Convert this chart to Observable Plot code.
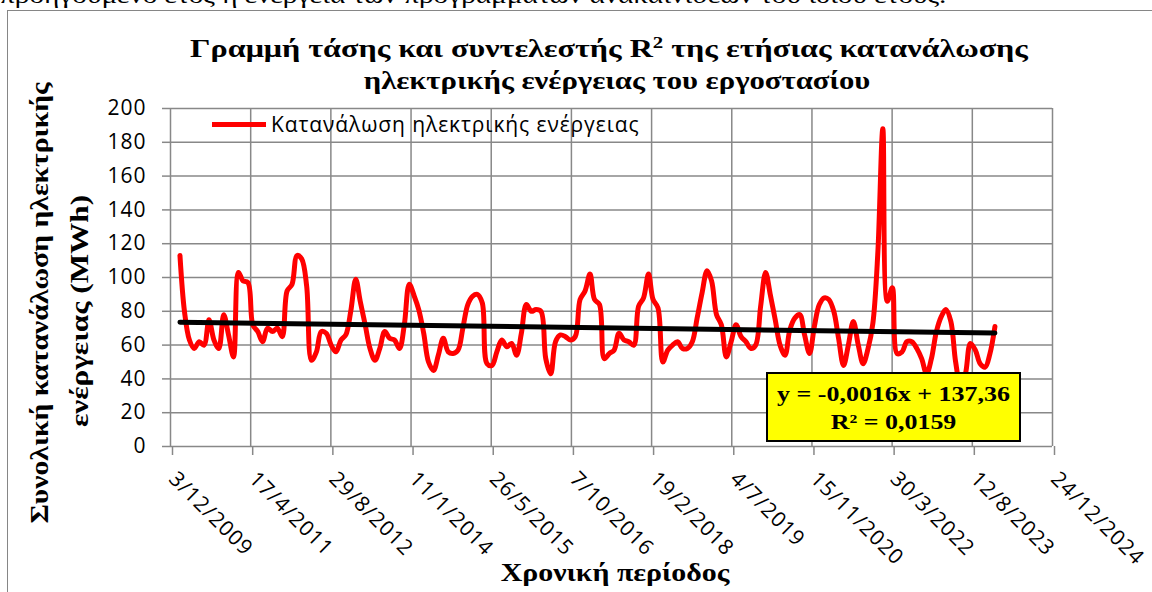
<!DOCTYPE html>
<html><head><meta charset="utf-8">
<script src="https://cdn.jsdelivr.net/npm/d3@7"></script>
<script src="https://cdn.jsdelivr.net/npm/@observablehq/plot@0.6"></script>
<style>
html,body{margin:0;padding:0;background:#fff;}
body{width:1152px;height:592px;overflow:hidden;position:relative;}
.abs{position:absolute;white-space:nowrap;}
.serif{font-family:"Liberation Serif","Times New Roman",serif;font-weight:bold;color:#000;line-height:1;}
.sans{font-family:"Open Sans","Noto Sans",sans-serif;color:#000;line-height:1;letter-spacing:0.9px;}
#frame{position:absolute;left:7px;top:10px;width:1200px;height:640px;border:1px solid #868686;box-sizing:border-box;}
#chart{position:absolute;left:0;top:0;}
#trendbox{position:absolute;left:766px;top:372px;width:255px;height:70px;background:#ffff00;border:2px solid #000;box-sizing:border-box;text-align:center;font-size:22px;line-height:28px;padding-top:6px;}
#trendbox div{transform:scaleX(1.18);transform-origin:50% 50%;}
</style></head><body>
<div class="abs serif" id="toptext" style="left:0;top:-17px;font-size:24px;font-weight:normal;transform:scaleX(1.22);transform-origin:0 0;">προηγούμενο έτος ή ενέργεια των προγραμμάτων ανακαινίσεων του ίδιου έτους.</div>
<div id="frame"></div>
<div id="chart"></div>
<div class="abs serif" id="title1" style="left:609px;top:35px;font-size:26px;transform:translateX(-50%) scaleX(1.235);"></div>
<div class="abs serif" id="title2" style="left:617px;top:68px;font-size:26px;transform:translateX(-50%) scaleX(1.18);"></div>
<div class="abs serif" id="ylab1" style="left:40px;top:303px;font-size:26px;transform:translate(-50%,-50%) rotate(-90deg) scaleX(1.14);"></div>
<div class="abs serif" id="ylab2" style="left:80px;top:311px;font-size:26px;transform:translate(-50%,-50%) rotate(-90deg) scaleX(1.2);"></div>
<div class="abs serif" id="xlab" style="left:615px;top:560px;font-size:26px;transform:translateX(-50%) scaleX(1.15);"></div>
<div class="abs" id="legline" style="left:212px;top:121.5px;width:54px;height:5px;background:#ff0000;"></div>
<div class="abs sans" id="legtext" style="left:271px;top:113.5px;font-size:21px;"></div>
<div id="trendbox" class="serif"><div id="eq1"></div><div id="eq2"></div></div>
<script>
// ---- data (monthly totals, MWh) ----
const years = [2010,2011,2012,2013,2014,2015,2016,2017,2018,2019,2020,2021,2022,2023];
const v2010 = [113, 80, 63, 58, 62, 60, 75, 63, 58, 78, 66, 53];
const v2011 = [103, 98, 97, 72, 68, 62, 70, 68, 70, 65, 92, 96];
const v2012 = [113, 111, 95, 51, 56, 68, 67, 60, 56, 63, 66, 80];
const v2013 = [99, 86, 72, 58, 51, 58, 68, 64, 63, 58, 72, 96];
const v2014 = [89, 81, 67, 50, 45, 54, 64, 56, 55, 57, 70, 84];
const v2015 = [89, 90, 85, 49, 48, 56, 63, 59, 61, 54, 67, 84];
const v2016 = [80, 81, 80, 52, 43, 62, 66, 65, 63, 65, 87, 92];
const v2017 = [102, 87, 84, 52, 55, 57, 67, 63, 62, 60, 83, 88];
const v2018 = [102, 87, 82, 50, 57, 60, 62, 58, 58, 62, 76, 91];
const v2019 = [104, 98, 78, 72, 53, 62, 72, 65, 62, 58, 60, 83];
const v2020 = [103, 90, 75, 60, 54, 69, 76, 78, 66, 55, 71, 84];
const v2021 = [88, 87, 80, 64, 48, 60, 74, 60, 49, 58, 73, 115];
const v2022 = [188, 86, 94, 55, 56, 62, 62, 58, 52, 43, 52, 68];
const v2023 = [77, 81, 74, 50, 36, 43, 61, 57, 49, 47, 55, 71];
const yearValues = [v2010,v2011,v2012,v2013,v2014,v2015,v2016,v2017,v2018,v2019,v2020,v2021,v2022,v2023];

// x axis ticks (Excel date serials) and their labels
const xTickValues = [40150,40650,41150,41650,42150,42650,43150,43650,44150,44650,45150,45650];
const xTickLabels = ["3/12/2009","17/4/2011","29/8/2012","11/1/2014","26/5/2015","7/10/2016","19/2/2018","4/7/2019","15/11/2020","30/3/2022","12/8/2023","24/12/2024"];
const yTickValues = [0,20,40,60,80,100,120,140,160,180,200];

// texts
const titleLine1 = "Γραμμή τάσης και συντελεστής R<span style=\"font-size:0.65em;vertical-align:0.55em;\">2</span> της ετήσιας κατανάλωσης";
const titleLine2 = "ηλεκτρικής ενέργειας του εργοστασίου";
const yLabel1 = "Συνολική κατανάλωση ηλεκτρικής";
const yLabel2 = "ενέργειας (MWh)";
const xLabel = "Χρονική περίοδος";
const seriesName = "Κατανάλωση ηλεκτρικής ενέργειας";
const trendEquation = "y = -0,0016x + 137,36";
const trendR2 = "R² = 0,0159";

// build table: month-end dates as Excel serials
const excelEpoch = Date.UTC(1899, 11, 30);
const series = [];
years.forEach((yr, yi) => {
  yearValues[yi].forEach((v, m) => {
    const serial = (Date.UTC(yr, m + 1, 0) - excelEpoch) / 864e5;
    series.push({serial, value: v});
  });
});
const labelOf = new Map(xTickValues.map((d, i) => [d, xTickLabels[i]]));

document.getElementById("title1").innerHTML = titleLine1;
document.getElementById("title2").textContent = titleLine2;
document.getElementById("ylab1").textContent = yLabel1;
document.getElementById("ylab2").textContent = yLabel2;
document.getElementById("xlab").textContent = xLabel;
document.getElementById("legtext").textContent = seriesName;
document.getElementById("eq1").textContent = trendEquation;
document.getElementById("eq2").textContent = trendR2;

const gridColor = "#888888";
const chart = Plot.plot({
  width: 1152, height: 592,
  marginLeft: 170, marginRight: 100, marginTop: 108, marginBottom: 146,
  style: {background: "transparent", fontFamily: "'Open Sans','Noto Sans',sans-serif", fontSize: "21px", color: "#000", letterSpacing: "1px"},
  x: {type: "linear", domain: [40150, 45650], label: null},
  y: {domain: [0, 200], label: null},
  marks: [
    Plot.gridX(xTickValues, {stroke: gridColor, strokeOpacity: 1, strokeWidth: 1.5}),
    Plot.gridY(yTickValues, {stroke: gridColor, strokeOpacity: 1, strokeWidth: 1.5}),
    Plot.axisY(yTickValues, {tickSize: 8, tickPadding: 16, stroke: gridColor, strokeWidth: 1.5, fill: "#000", fontSize: 21, label: null}),
    Plot.axisX(xTickValues, {tickSize: 9, tickPadding: 20, tickRotate: 45, dx: 2, stroke: gridColor, strokeWidth: 1.5, fill: "#000", fontSize: 21, label: null, tickFormat: d => labelOf.get(d)}),
    Plot.line(series, {x: "serial", y: "value", stroke: "#ff0000", strokeWidth: 5, curve: "catmull-rom", strokeLinejoin: "round", strokeLinecap: "round"}),
    Plot.linearRegressionY(series, {x: "serial", y: "value", stroke: "#000", strokeWidth: 5, ci: 0, strokeLinecap: "round"})
  ]
});
document.getElementById("chart").appendChild(chart);
</script>
</body></html>
